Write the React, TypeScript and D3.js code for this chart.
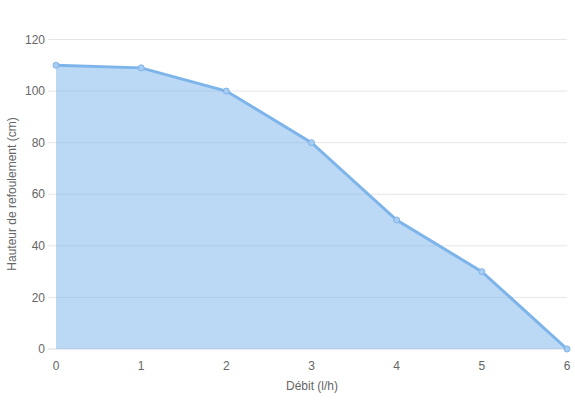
import React from "react";
import * as d3 from "d3";

const debits = [0, 1, 2, 3, 4, 5, 6];
const hauteurs = [110, 109, 100, 80, 50, 30, 0];
const yTicks = [0, 20, 40, 60, 80, 100, 120];
const xTicks = [0, 1, 2, 3, 4, 5, 6];

export default function App() {
  const W = 575, H = 400;
  const x = d3.scaleLinear().domain([0, 6]).range([56, 567]);
  const y = d3.scaleLinear().domain([0, 120]).range([349, 39.5]);
  const pts = debits.map((d, i) => [x(d), y(hauteurs[i])] as [number, number]);
  const line = d3.line<[number, number]>()(pts) || "";
  const area = d3.area<[number, number]>().x(p => p[0]).y0(y(0)).y1(p => p[1])(pts) || "";
  const font = "'Liberation Sans', Arial, sans-serif";
  return (
    <svg width={W} height={H} style={{ position: "absolute", left: 0, top: 0 }} fontFamily={font}>
      {yTicks.map(t => (
        <g key={t}>
          <line x1={48} x2={567} y1={y(t)} y2={y(t)} stroke={t === 0 ? "#d9d9d9" : "#e6e6e6"} strokeWidth={1} />
          <text x={45} y={y(t)} dy="0.35em" textAnchor="end" fontSize={12} fill="#666">{t}</text>
        </g>
      ))}
      {xTicks.map(t => (
        <text key={t} x={x(t)} y={370} textAnchor="middle" fontSize={12} fill="#666">{t}</text>
      ))}
      <path d={area} fill="rgba(120,178,236,0.5)" />
      <path d={line} fill="none" stroke="#7db4ea" strokeWidth={3} />
      {pts.map((p, i) => (
        <circle key={i} cx={p[0]} cy={p[1]} r={3} fill="#a9cdf2" stroke="#7db4ea" strokeWidth={1} />
      ))}
      <text x={312} y={390} textAnchor="middle" fontSize={12} fill="#666">Débit (l/h)</text>
      <text transform={`translate(16,${194}) rotate(-90)`} textAnchor="middle" fontSize={12} fill="#666">Hauteur de refoulement (cm)</text>
    </svg>
  );
}
